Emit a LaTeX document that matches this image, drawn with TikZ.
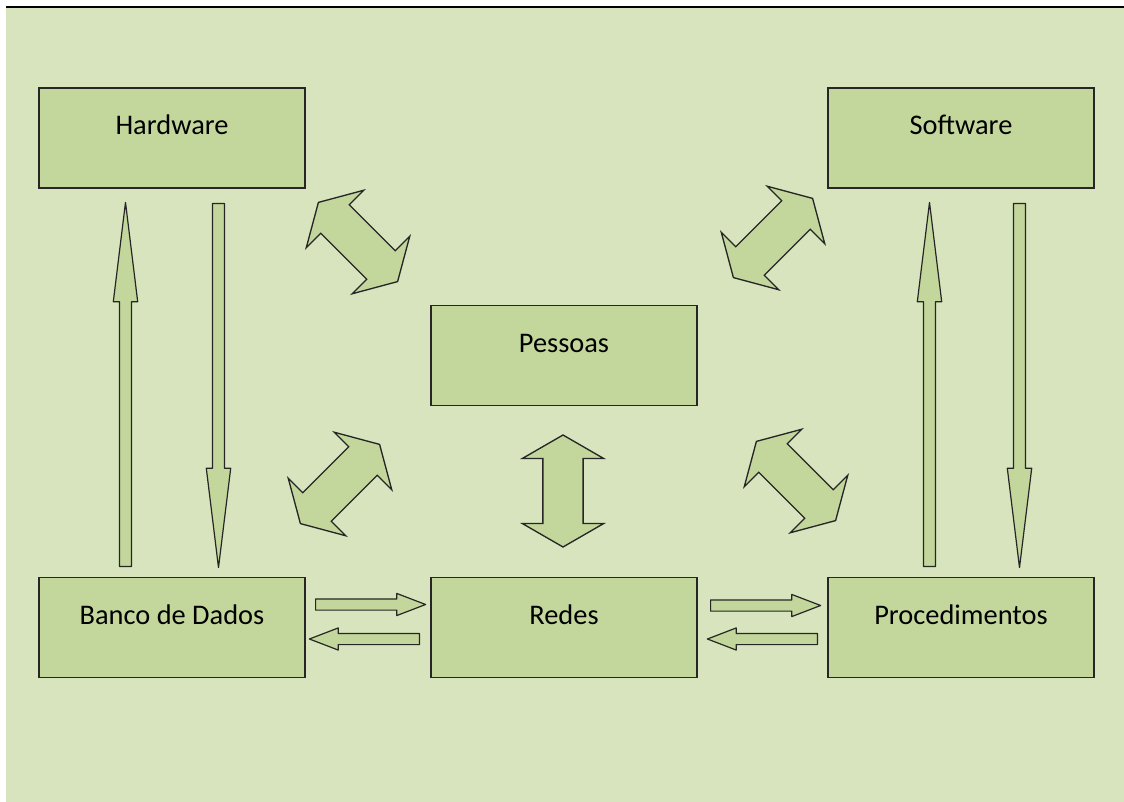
\documentclass[tikz,border=0pt]{standalone}
\usepackage{fontspec}
\setmainfont{Carlito}
\usetikzlibrary{shapes.arrows}

\definecolor{paneback}{HTML}{D7E4BD}
\definecolor{panefill}{HTML}{C3D69B}

\tikzset{
  box/.style={draw=black!85, line width=1.3pt, fill=panefill, rectangle, inner sep=0pt,
    minimum width=199.5pt, text height=35pt, text depth=40pt,
    font=\fontsize{21.3}{25}\selectfont},
  bigarrow/.style={double arrow, draw=black!85, line width=1pt, fill=panefill,
    inner xsep=0pt, inner ysep=14.6pt, minimum width=1pt, minimum height=84pt,
    double arrow tip angle=120, double arrow head extend=15.4pt},
  thinarrow/.style={single arrow, anchor=tail, draw=black!85, line width=0.9pt, line join=round, fill=panefill,
    inner xsep=0pt, inner ysep=4.1pt, minimum width=1pt, minimum height=273pt,
    single arrow tip angle=14, single arrow head extend=4.6pt},
  flatarrow/.style={single arrow, anchor=tail, draw=black!85, line width=0.9pt, line join=round, fill=panefill,
    inner xsep=0pt, inner ysep=3.75pt, minimum width=1pt, minimum height=82.5pt,
    single arrow tip angle=42, single arrow head extend=4.1pt}
}

\begin{document}
\begin{tikzpicture}[x=0.75pt, y=-0.75pt]
				\useasboundingbox (0,0) rectangle (1124,802);
				\fill[paneback] (6,8) rectangle (1124,802);
				\draw[line width=1.5pt] (6,7) -- (1124,7);

				% Boxes
				\node[box] (hardware) at (172,138) {Hardware};
				\node[box] (software) at (961,138) {Software};
				\node[box] (pessoas) at (564,355.5) {Pessoas};
				\node[box] (banco) at (172,627.5) {Banco de Dados};
				\node[box] (redes) at (564,627.5) {Redes};
				\node[box] (proced) at (961,627.5) {Procedimentos};

				% Block arrows round Pessoas
				\node[bigarrow, rotate=-45] (hwpess) at (358,242) {};
				\node[bigarrow, rotate=45] (swpess) at (773,238) {};
				\node[bigarrow, rotate=45] (bdpess) at (340,484) {};
				\node[bigarrow, rotate=-45] (prpess) at (796,481) {};
				\node[bigarrow, rotate=90] (rdpess) at (563,491) {};

				% Vertical arrows (placed by their tails)
				\node[thinarrow, rotate=90] (bdhw) at (125.5,567) {};
				\node[thinarrow, rotate=-90] (hwbd) at (218.5,203) {};
				\node[thinarrow, rotate=90] (prsw) at (929.5,567) {};
				\node[thinarrow, rotate=-90] (swpr) at (1019.5,203) {};

				% Horizontal arrows
				\node[flatarrow] (bdrd) at (315,604.5) {};
				\node[flatarrow, rotate=180] (rdbd) at (420,639) {};
				\node[flatarrow] (rdpr) at (710,605.5) {};
				\node[flatarrow, rotate=180] (prrd) at (818,639) {};
			\end{tikzpicture}
\end{document}
